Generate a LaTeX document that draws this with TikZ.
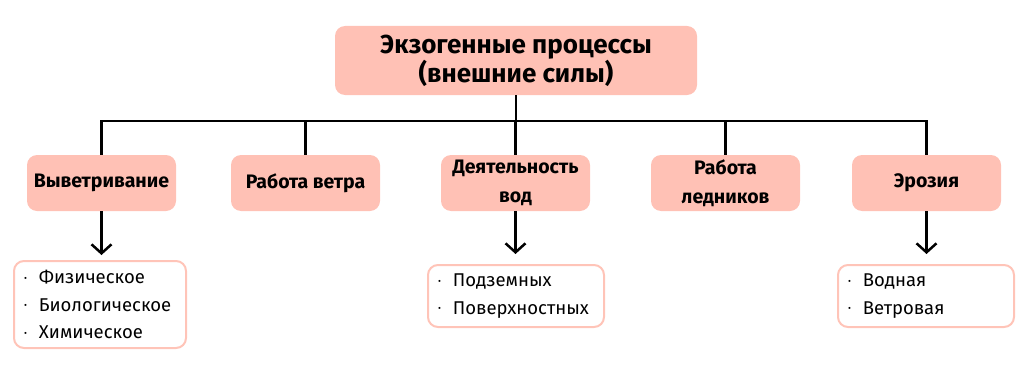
\documentclass[tikz,border=0pt]{standalone}
\usepackage{fontspec}
\setmainfont{Fira Sans}
\usetikzlibrary{arrows.meta}
\definecolor{boxfill}{HTML}{FFC1B5}
\definecolor{leafline}{HTML}{FFC4B8}
\tikzset{
  mainbox/.style={draw=none, fill=boxfill, rounded corners=10pt, minimum width=362pt, minimum height=69pt, align=center, font=\fontsize{26}{26}\selectfont\bfseries},
  catbox/.style={draw=none, fill=boxfill, rounded corners=10pt, minimum width=149pt, minimum height=56pt, align=center, inner sep=0pt, font=\fontsize{19.5}{29}\selectfont\bfseries},
  leafbox/.style={draw=leafline, line width=2pt, fill=white, rounded corners=10pt, align=left, inner xsep=10pt, inner ysep=0pt, font=\fontsize{18.5}{27.5}\selectfont},
  conn/.style={line width=2.5pt, black},
  arr/.style={line width=2.5pt, black, -{Straight Barb[length=9pt,width=20pt,line width=2.5pt]}},
}
\newcommand{\bul}{\raisebox{0.25ex}{\fontsize{9}{9}\selectfont\textbullet}\hspace{12pt}}
\begin{document}
\begin{tikzpicture}[x=1pt,y=-1pt]
\useasboundingbox (0,0) rectangle (1024,369);
\node[mainbox] (top) at (516,60.5) {Экзогенные процессы\\(внешние силы)};
\node[catbox] (c1) at (101.5,183) {Выветривание};
\node[catbox] (c2) at (305.5,183) {Работа ветра};
\node[catbox] (c3) at (515.5,183) {Деятельность\\вод};
\node[catbox] (c4) at (725.5,183) {Работа\\ледников};
\node[catbox] (c5) at (926.5,183) {Эрозия};
\node[leafbox, minimum width=172pt, minimum height=87pt, text width=152pt] (l1) at (100,304.5) {\bul Физическое\\\bul Биологическое\\\bul Химическое};
\node[leafbox, minimum width=176pt, minimum height=62pt, text width=156pt] (l3) at (516,296) {\bul Подземных\\\bul Поверхностных};
\node[leafbox, minimum width=176pt, minimum height=62pt, text width=156pt] (l5) at (926,296) {\bul Водная\\\bul Ветровая};
\coordinate (bus) at (0,121);
\draw[conn] (top.south) -- (top.south |- bus);
\draw[conn] (c1.north) |- (c5.north |- bus) -- (c5.north);
\draw[conn] (c2.north) -- (c2.north |- bus);
\draw[conn] (c3.north) -- (c3.north |- bus);
\draw[conn] (c4.north) -- (c4.north |- bus);
\draw[arr, shorten >=5pt] (c1.south) -- (c1.south |- l1.north);
\draw[arr, shorten >=10pt] (c3.south) -- (c3.south |- l3.north);
\draw[arr, shorten >=10pt] (c5.south) -- (c5.south |- l5.north);
\end{tikzpicture}
\end{document}
